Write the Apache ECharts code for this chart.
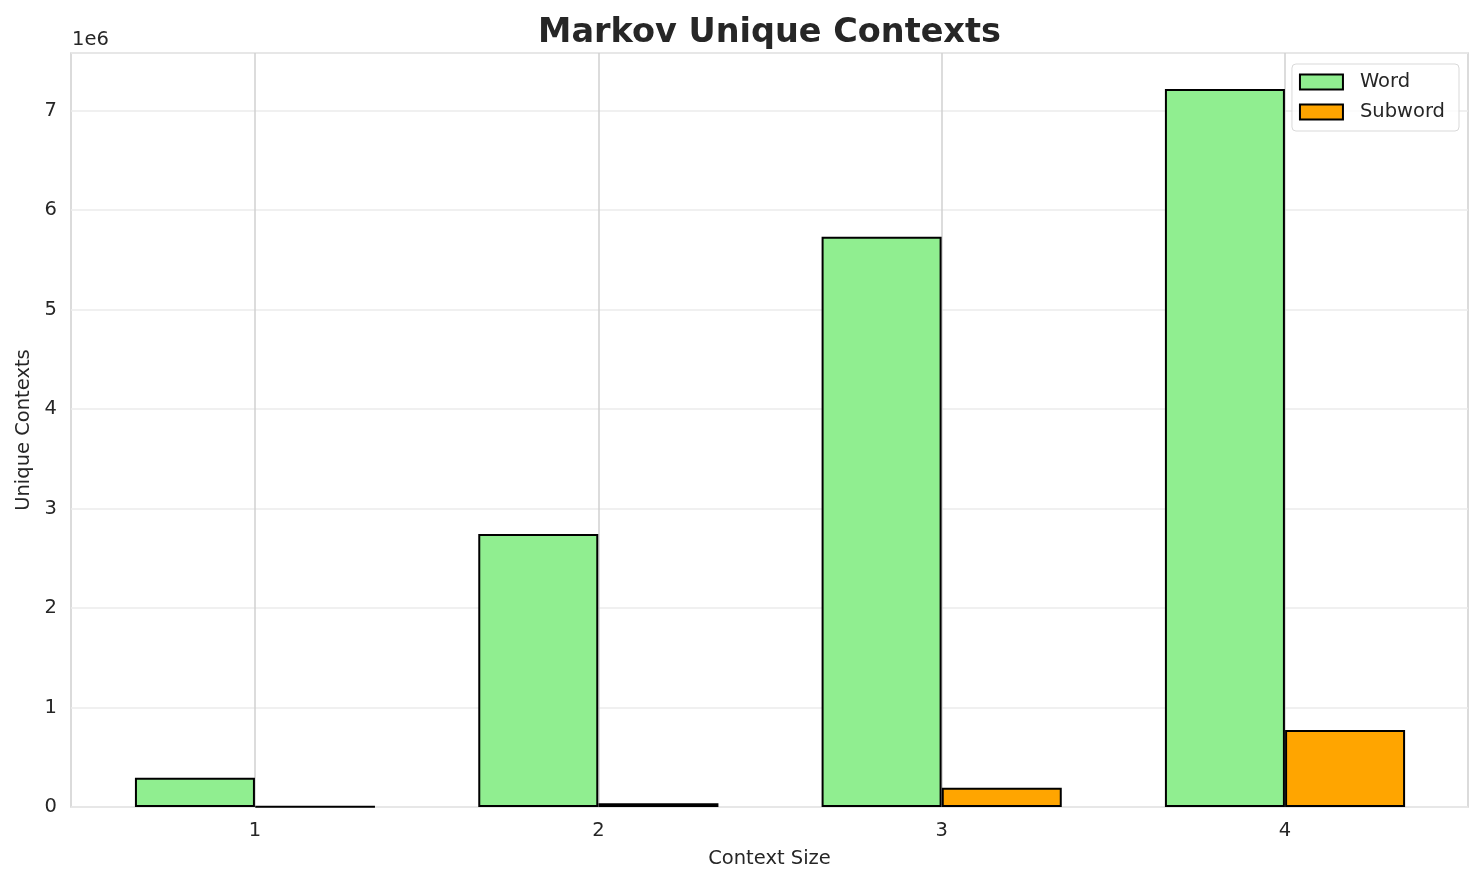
<!DOCTYPE html>
<html>
<head>
<meta charset="utf-8">
<script src="https://cdn.jsdelivr.net/npm/echarts@6/dist/echarts.min.js"></script>
<style>
  html, body { margin: 0; padding: 0; background: #ffffff; }
  #chart { width: 1484px; height: 885px; }
</style>
</head>
<body>
<div id="chart"></div>
<script>
// ---- data ----
const contextSizes = [1, 2, 3, 4];
const wordContexts = [295000, 2744000, 5732000, 7218000];
const subwordContexts = [3000, 37000, 194000, 774000];
const yTicks = [0, 1, 2, 3, 4, 5, 6, 7];
const seriesNames = ['Word', 'Subword'];

// ---- layout ----
const barOffset = 0.175;
const FONT = 'DejaVu Sans';
const TXT = '#262626';

const chart = echarts.init(document.getElementById('chart'));

const option = {
  backgroundColor: '#ffffff',
  animation: false,
  textStyle: { fontFamily: FONT },
  grid: {
    left: 71, right: 16, top: 53, bottom: 78,
    show: true, borderColor: '#d0d0d0', borderWidth: 1.5, backgroundColor: 'transparent'
  },
  legend: {
    data: seriesNames,
    orient: 'vertical',
    right: 25,
    top: 64,
    itemWidth: 43,
    itemHeight: 15,
    itemGap: 8,
    padding: [7, 14, 8, 7],
    borderColor: '#d9d9d9',
    borderWidth: 1,
    borderRadius: 4,
    backgroundColor: 'rgba(255,255,255,0.8)',
    icon: 'rect',
    textStyle: { fontFamily: FONT, fontSize: 19.5, color: TXT, lineHeight: 22, padding: [0, 0, 0, 12] }
  },
  graphic: [
    {
      type: 'text', x: 769.5, y: 33, z: 10,
      style: { text: 'Markov Unique Contexts', font: 'bold 33.5px "DejaVu Sans"', fill: TXT,
               textAlign: 'center', textVerticalAlign: 'middle' }
    },
    {
      type: 'text', x: 72, y: 40, z: 10,
      style: { text: '1e6', font: '19.5px "DejaVu Sans"', fill: TXT,
               textAlign: 'left', textVerticalAlign: 'middle' }
    }
  ],
  xAxis: {
    type: 'value',
    min: 0.464,
    max: 4.533,
    name: 'Context Size',
    nameLocation: 'middle',
    nameGap: 42,
    nameTextStyle: { fontFamily: FONT, fontSize: 19.5, color: TXT },
    axisLine: { show: false },
    axisTick: { show: false },
    splitLine: { show: false },
    axisLabel: {
      customValues: contextSizes,
      fontFamily: FONT, fontSize: 19.5, color: TXT, margin: 14,
      formatter: v => String(v)
    }
  },
  yAxis: {
    type: 'value',
    min: 0,
    max: 7580000,
    interval: 1000000,
    name: 'Unique Contexts',
    nameLocation: 'middle',
    nameGap: 37,
    nameTextStyle: { fontFamily: FONT, fontSize: 19.5, color: TXT },
    axisLine: { show: false },
    axisTick: { show: false },
    splitLine: { show: true, lineStyle: { color: '#ebebeb', width: 1.5 } },
    axisLabel: {
      fontFamily: FONT, fontSize: 19.5, color: TXT, margin: 14,
      showMaxLabel: false,
      formatter: v => {
        const t = v / 1e6;
        return yTicks.indexOf(t) >= 0 ? String(t) : '';
      }
    }
  },
  series: [
    {
      name: '__grid',
      type: 'line',
      data: [],
      silent: true,
      z: 1,
      markLine: {
        silent: true,
        z: 1,
        symbol: ['none', 'none'],
        label: { show: false },
        lineStyle: { color: '#d0d0d0', width: 1.5, type: 'solid' },
        data: contextSizes.map(c => ({ xAxis: c }))
      }
    },
    {
      name: 'Word',
      type: 'bar',
      z: 3,
      barWidth: 120,
      barGap: '-100%',
      itemStyle: { color: '#90EE90', borderColor: '#000000', borderWidth: 2 },
      data: contextSizes.map((c, i) => [c - barOffset, wordContexts[i]])
    },
    {
      name: 'Subword',
      type: 'bar',
      z: 3,
      barWidth: 120,
      barGap: '-100%',
      itemStyle: { color: '#FFA500', borderColor: '#000000', borderWidth: 2 },
      data: contextSizes.map((c, i) => [c + barOffset, subwordContexts[i]])
    }
  ]
};

chart.setOption(option);
</script>
</body>
</html>
